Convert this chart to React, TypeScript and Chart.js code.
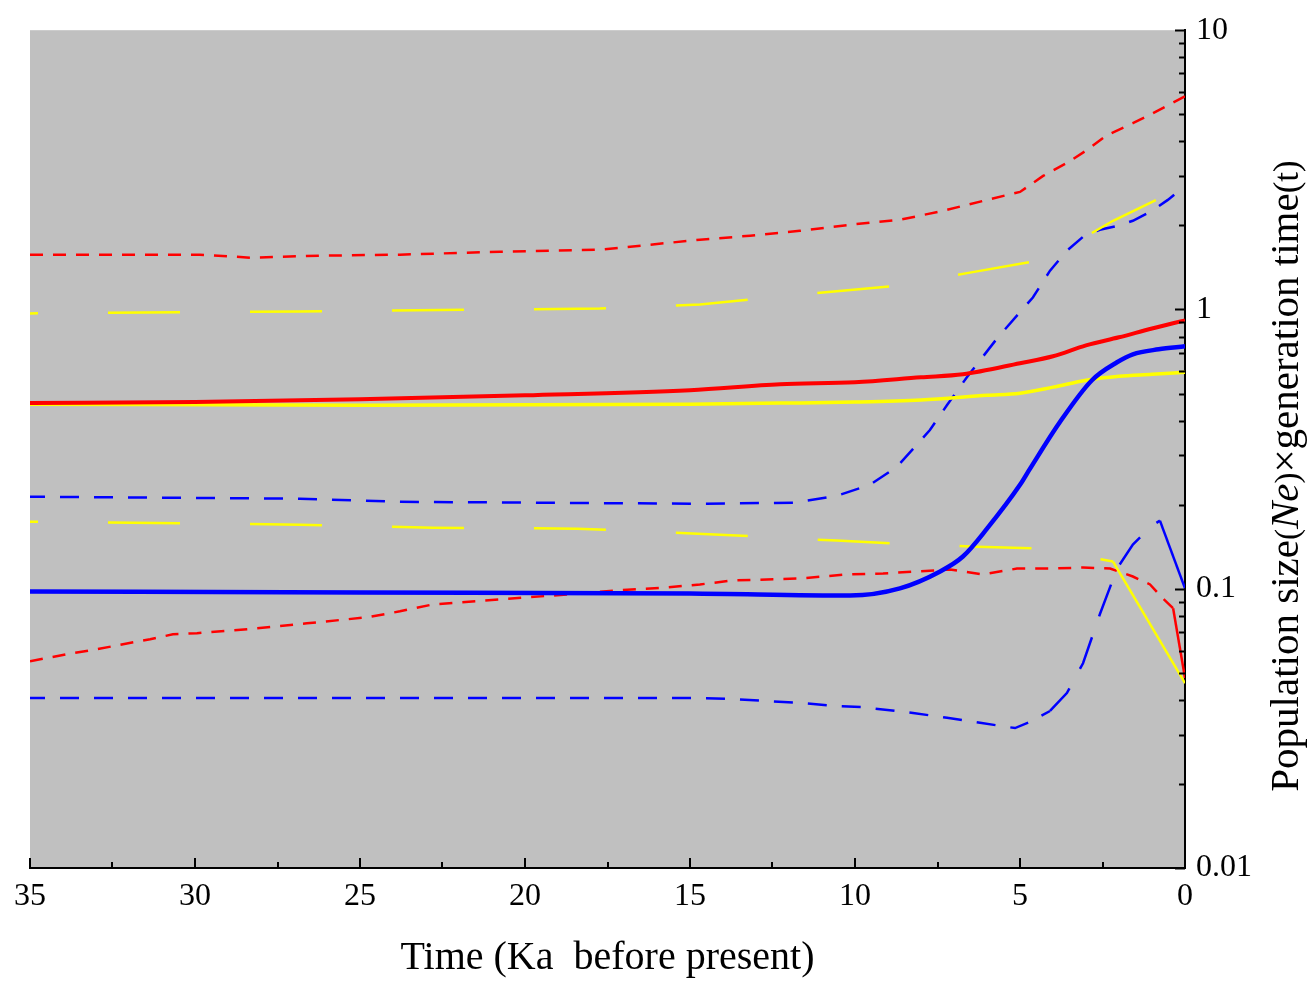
import { useEffect, useRef } from "react";
import { Chart, registerables } from "chart.js";

Chart.register(...registerables);

// ---- axis tick labels ----
const xTickValues = [35, 30, 25, 20, 15, 10, 5, 0];
const yTickValues = [0.01, 0.1, 1, 10];

// ---- series (time in Ka before present, value Ne×t) ----
const blueMedianT = [35, 25, 15, 10.15, 8.64, 7.42, 6.73, 6.0, 5.0, 4.7, 3.79, 2.82, 2.06, 1.58, 0.8, 0];
const blueMedianV = [0.0978, 0.097, 0.0962, 0.0946, 0.1003, 0.1153, 0.1304, 0.1641, 0.2355, 0.2686, 0.3953, 0.558, 0.647, 0.691, 0.72, 0.738];

const redMedianT = [35, 30, 25, 20, 15, 12.27, 10, 8, 6.73, 5, 4, 3, 2, 1, 0];
const redMedianV = [0.462, 0.466, 0.477, 0.493, 0.514, 0.54, 0.549, 0.572, 0.586, 0.642, 0.68, 0.744, 0.795, 0.855, 0.914];

const yellowMedianT = [35, 25, 15, 12.27, 10, 8, 6, 5, 4, 3, 2, 1, 0];
const yellowMedianV = [0.458, 0.454, 0.458, 0.462, 0.466, 0.474, 0.493, 0.5015, 0.527, 0.558, 0.577, 0.586, 0.596];

const redUpperT = [35, 29.85, 28.33, 26.21, 23.79, 20.76, 17.73, 14.7, 13.18, 11.67, 10.15, 8.64, 7.33, 6.0, 5.0, 4.3, 3.58, 2.97, 2.36, 1.58, 0.97, 0];
const redUpperV = [1.571, 1.571, 1.533, 1.558, 1.571, 1.61, 1.637, 1.777, 1.837, 1.913, 2.011, 2.095, 2.255, 2.468, 2.636, 3.007, 3.346, 3.723, 4.211, 4.647, 5.045, 5.8];

const yellowUpperT = [35, 26.82, 20.76, 17.73, 14.7, 11.67, 8.64, 6.52, 4.3, 3.33, 2.18, 0];
const yellowUpperV = [0.968, 0.984, 1.0, 1.008, 1.042, 1.131, 1.218, 1.355, 1.508, 1.734, 2.078, 2.77];

const blueUpperT = [35, 26.82, 23.79, 14.7, 11.88, 10.55, 9.55, 8.73, 8.24, 7.73, 7.21, 6.61, 5.67, 4.61, 4.09, 3.58, 3.09, 2.58, 2.03, 1.58, 1.0, 0.52, 0];
const blueUpperV = [0.2135, 0.21, 0.2048, 0.2015, 0.2032, 0.2152, 0.2355, 0.2731, 0.3166, 0.3701, 0.4546, 0.572, 0.7945, 1.104, 1.377, 1.623, 1.821, 1.929, 1.994, 2.078, 2.255, 2.468, 2.77];

const yellowLowerT = [35, 26.82, 22.79, 18.42, 14.09, 10.55, 8.64, 6.3, 4.3, 2.18, 0];
const yellowLowerV = [0.1738, 0.1696, 0.1654, 0.1641, 0.1562, 0.1487, 0.145, 0.1415, 0.1392, 0.1251, 0.0459];

const redLowerT = [35, 33.88, 32.97, 32.18, 31.36, 30.67, 29.94, 28.42, 26.61, 24.79, 23.79, 22.79, 20.76, 18.73, 17.21, 15.7, 14.7, 13.7, 11.67, 10.24, 9.15, 8.12, 7.12, 6.12, 5.09, 4.09, 3.09, 2.27, 1.58, 1.06, 0.67, 0.36, 0];
const redLowerV = [0.055, 0.0583, 0.0607, 0.0633, 0.0659, 0.0687, 0.0693, 0.0716, 0.0752, 0.079, 0.083, 0.0879, 0.0916, 0.0954, 0.0986, 0.1011, 0.1036, 0.1071, 0.1088, 0.1125, 0.1134, 0.1153, 0.1172, 0.1125, 0.1181, 0.1181, 0.1191, 0.1181, 0.1106, 0.1036, 0.0923, 0.0851, 0.0479];

const blueLowerT = [35, 23.79, 14.7, 13.7, 12.67, 11.67, 10.55, 9.79, 8.24, 7.21, 6.21, 5.15, 4.64, 4.09, 3.58, 3.09, 2.58, 2.06, 1.58, 1.0, 0.76, 0];
const blueLowerV = [0.0406, 0.0406, 0.0406, 0.0403, 0.0396, 0.039, 0.038, 0.0377, 0.0359, 0.0345, 0.0331, 0.0317, 0.0336, 0.0365, 0.0423, 0.0541, 0.081, 0.1181, 0.1439, 0.1682, 0.1753, 0.1003];

const RED = "#ff0000";
const BLUE = "#0000ff";
const YELLOW = "#ffff00";
const SERIF = '"Liberation Serif", "Times New Roman", serif';

function pts(t: number[], v: number[]) {
  return t.map((x, i) => ({ x, y: v[i] }));
}

const bgPlugin = {
  id: "plotBg",
  beforeDraw(chart: any) {
    const { ctx, chartArea: a } = chart;
    ctx.save();
    ctx.fillStyle = "#c0c0c0";
    ctx.fillRect(a.left, a.top, a.right - a.left, a.bottom - a.top);
    ctx.restore();
  },
};

const decorPlugin = {
  id: "decor",
  afterDraw(chart: any) {
    const { ctx, chartArea: a } = chart;
    const xs = chart.scales.x;
    const ys = chart.scales.y;
    ctx.save();
    ctx.strokeStyle = "#000";
    ctx.lineWidth = 2;
    ctx.beginPath();
    for (let t = 0; t <= 35; t += 2.5) {
      const px = Math.round(xs.getPixelForValue(t));
      const len = t % 5 === 0 ? 10 : 6;
      ctx.moveTo(px, a.bottom);
      ctx.lineTo(px, a.bottom - len);
    }
    for (const d of [0.01, 0.1, 1]) {
      for (let m = 1; m <= 10; m++) {
        const v = d * m;
        const py = Math.round(ys.getPixelForValue(v)) + 0.5;
        const len = m === 1 || m === 10 ? 10 : 6;
        ctx.moveTo(a.right, py);
        ctx.lineTo(a.right - len, py);
      }
    }
    ctx.stroke();

    // x title
    ctx.fillStyle = "#000";
    ctx.font = `40px ${SERIF}`;
    ctx.textAlign = "center";
    ctx.textBaseline = "alphabetic";
    ctx.fillText("Time (Ka  before present)", (a.left + a.right) / 2, 969);

    // y title (rotated, reads bottom to top)
    const parts = [
      { s: "Population size", f: `41px ${SERIF}` },
      { s: "(", f: `33px ${SERIF}` },
      { s: "Ne", f: `italic 41px ${SERIF}` },
      { s: ")", f: `33px ${SERIF}` },
      { s: "×generation time", f: `41px ${SERIF}` },
      { s: "(t)", f: `35px ${SERIF}` },
    ];
    let total = 0;
    const widths = parts.map((p) => {
      ctx.font = p.f;
      const w = ctx.measureText(p.s).width;
      total += w;
      return w;
    });
    ctx.translate(1298, 476);
    ctx.rotate(-Math.PI / 2);
    ctx.textAlign = "left";
    let x0 = -total / 2;
    parts.forEach((p, i) => {
      ctx.font = p.f;
      ctx.fillText(p.s, x0, 0);
      x0 += widths[i];
    });
    ctx.restore();
  },
};

export default function App() {
  const ref = useRef<HTMLCanvasElement | null>(null);

  useEffect(() => {
    if (!ref.current) return;
    const base = { pointRadius: 0, pointHoverRadius: 0, fill: false };
    const chart = new Chart(ref.current, {
      type: "line",
      data: {
        datasets: [
          { ...base, label: "blue median", data: pts(blueMedianT, blueMedianV), borderColor: BLUE, borderWidth: 4.5, cubicInterpolationMode: "monotone" },
          { ...base, label: "red median", data: pts(redMedianT, redMedianV), borderColor: RED, borderWidth: 4, cubicInterpolationMode: "monotone" },
          { ...base, label: "yellow median", data: pts(yellowMedianT, yellowMedianV), borderColor: YELLOW, borderWidth: 3.5, cubicInterpolationMode: "monotone" },
          { ...base, label: "red upper", data: pts(redUpperT, redUpperV), borderColor: RED, borderWidth: 2.5, borderDash: [13, 10], tension: 0 },
          { ...base, label: "yellow upper", data: pts(yellowUpperT, yellowUpperV), borderColor: YELLOW, borderWidth: 2.5, borderDash: [72, 70], borderDashOffset: 64, tension: 0 },
          { ...base, label: "blue upper", data: pts(blueUpperT, blueUpperV), borderColor: BLUE, borderWidth: 2.5, borderDash: [19, 15], borderDashOffset: 4, tension: 0 },
          {
            ...base, label: "yellow lower", data: pts(yellowLowerT, yellowLowerV), borderColor: YELLOW, borderWidth: 2.5, borderDash: [72, 70], borderDashOffset: 64, tension: 0,
            segment: { borderDash: (c: any) => (c.p0DataIndex === yellowLowerT.length - 2 ? [] : undefined) },
          },
          {
            ...base, label: "red lower", data: pts(redLowerT, redLowerV), borderColor: RED, borderWidth: 2.5, borderDash: [13, 10], tension: 0,
            segment: { borderDash: (c: any) => (c.p0DataIndex === redLowerT.length - 2 ? [] : undefined) },
          },
          {
            ...base, label: "blue lower", data: pts(blueLowerT, blueLowerV), borderColor: BLUE, borderWidth: 2.5, borderDash: [19, 15], borderDashOffset: 4, tension: 0,
            segment: {
              borderDash: (c: any) =>
                c.p0DataIndex === blueLowerT.length - 2 ? [] : c.p0DataIndex >= 13 ? [34, 22] : undefined,
            },
          },
        ],
      },
      options: {
        animation: false,
        responsive: false,
        devicePixelRatio: 1,
        layout: { padding: { left: 30, top: 27, right: 0, bottom: 0 } },
        plugins: { legend: { display: false }, tooltip: { enabled: false }, title: { display: false } },
        events: [],
        scales: {
          x: {
            type: "linear",
            position: "bottom",
            min: 0,
            max: 35,
            reverse: true,
            afterBuildTicks: (s: any) => {
              s.ticks = xTickValues.map((v) => ({ value: v }));
            },
            afterFit: (s: any) => {
              s.height = 113;
            },
            grid: { display: false, drawTicks: false },
            border: { display: true, color: "#000", width: 2 },
            ticks: {
              color: "#000",
              font: { family: SERIF, size: 32 },
              padding: 9,
              maxRotation: 0,
              autoSkip: false,
              callback: (v: any) => String(v),
            },
          },
          y: {
            type: "logarithmic",
            position: "right",
            min: 0.01,
            max: 10,
            afterBuildTicks: (s: any) => {
              s.ticks = yTickValues.map((v) => ({ value: v }));
            },
            afterFit: (s: any) => {
              s.width = 126;
            },
            grid: { display: false, drawTicks: false },
            border: { display: true, color: "#000", width: 2 },
            ticks: {
              color: "#000",
              font: { family: SERIF, size: 32 },
              padding: 11,
              autoSkip: false,
              callback: (v: any) => String(v),
            },
          },
        },
      },
      plugins: [bgPlugin, decorPlugin],
    } as any);
    return () => chart.destroy();
  }, []);

  return (
    <div style={{ position: "fixed", left: 0, top: 0, width: 1311, height: 981, background: "#fff" }}>
      <canvas ref={ref} width={1311} height={981} style={{ width: 1311, height: 981, display: "block" }} />
    </div>
  );
}
